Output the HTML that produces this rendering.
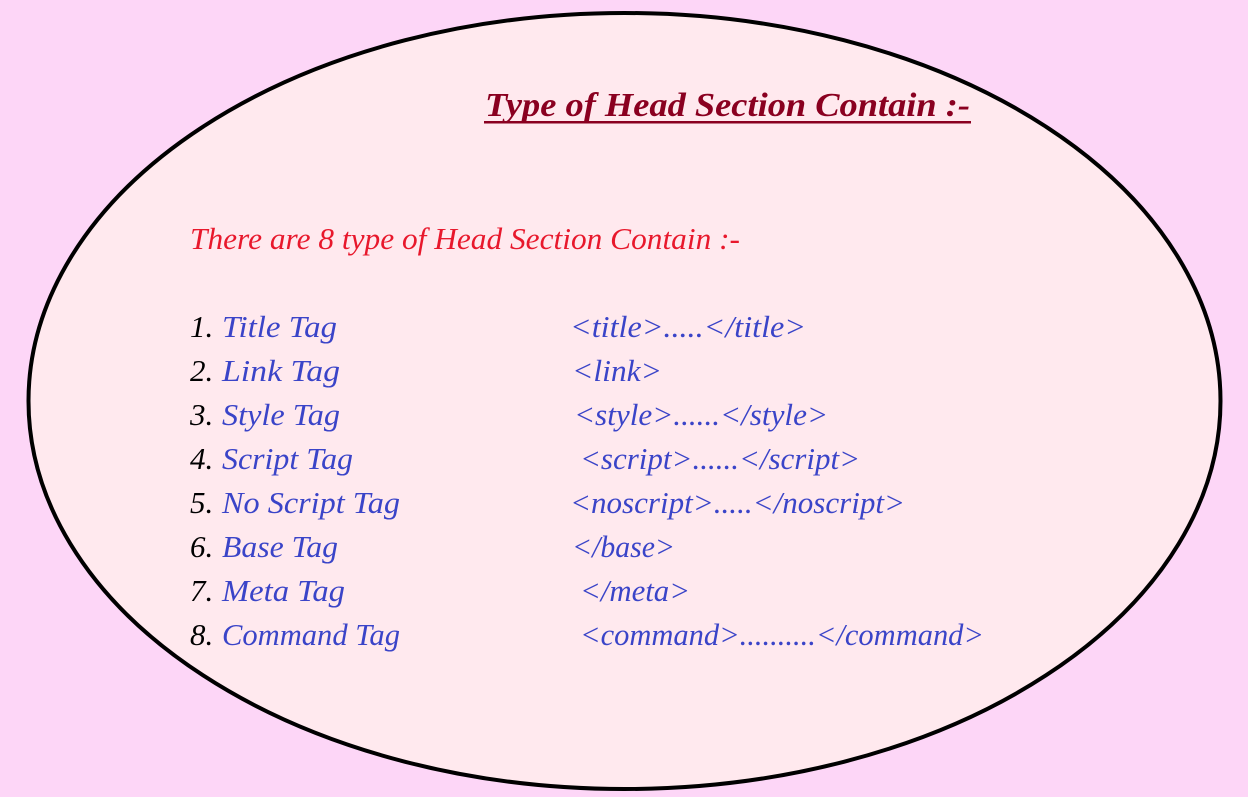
<!DOCTYPE html>
<html><head><meta charset="utf-8"><style>
html,body{margin:0;padding:0;background:#fdd6f7;}
svg{display:block}
text{font-family:"Liberation Serif",serif;font-style:italic;}
</style></head><body>
<svg width="1248" height="797" viewBox="0 0 1248 797">
<rect width="1248" height="797" fill="#fdd6f7"/>
<ellipse cx="624.5" cy="401" rx="596" ry="388" fill="#ffe9ee" stroke="#000" stroke-width="4"/>
<text x="485" y="116" font-size="34" font-weight="bold" fill="#8a0020" textLength="485" lengthAdjust="spacingAndGlyphs">Type of Head Section Contain :-</text>
<rect x="484" y="121" width="487" height="2.5" fill="#8a0020"/>
<text x="190" y="249" font-size="31" fill="#e8182c" textLength="550" lengthAdjust="spacingAndGlyphs">There are 8 type of Head Section Contain :-</text>
<g font-size="31" fill="#3a44c8" lengthAdjust="spacingAndGlyphs">
<g fill="#000">
<text x="190" y="337">1.</text><text x="190" y="381">2.</text><text x="190" y="425">3.</text><text x="190" y="469">4.</text>
<text x="190" y="513">5.</text><text x="190" y="557">6.</text><text x="190" y="601">7.</text><text x="190" y="645">8.</text>
</g>
<text x="222" y="337" textLength="115" lengthAdjust="spacingAndGlyphs">Title Tag</text>
<text x="222" y="381" textLength="118" lengthAdjust="spacingAndGlyphs">Link Tag</text>
<text x="222" y="425" textLength="118" lengthAdjust="spacingAndGlyphs">Style Tag</text>
<text x="222" y="469" textLength="131" lengthAdjust="spacingAndGlyphs">Script Tag</text>
<text x="222" y="513" textLength="178" lengthAdjust="spacingAndGlyphs">No Script Tag</text>
<text x="222" y="557" textLength="116" lengthAdjust="spacingAndGlyphs">Base Tag</text>
<text x="222" y="601" textLength="123" lengthAdjust="spacingAndGlyphs">Meta Tag</text>
<text x="222" y="645" textLength="178" lengthAdjust="spacingAndGlyphs">Command Tag</text>
<text x="570" y="337" textLength="236" lengthAdjust="spacingAndGlyphs">&lt;title&gt;.....&lt;/title&gt;</text>
<text x="572" y="381" textLength="90" lengthAdjust="spacingAndGlyphs">&lt;link&gt;</text>
<text x="574" y="425" textLength="254" lengthAdjust="spacingAndGlyphs">&lt;style&gt;......&lt;/style&gt;</text>
<text x="580" y="469" textLength="280" lengthAdjust="spacingAndGlyphs">&lt;script&gt;......&lt;/script&gt;</text>
<text x="570" y="513" textLength="335" lengthAdjust="spacingAndGlyphs">&lt;noscript&gt;.....&lt;/noscript&gt;</text>
<text x="572" y="557" textLength="103" lengthAdjust="spacingAndGlyphs">&lt;/base&gt;</text>
<text x="580" y="601" textLength="110" lengthAdjust="spacingAndGlyphs">&lt;/meta&gt;</text>
<text x="580" y="645" textLength="404" lengthAdjust="spacingAndGlyphs">&lt;command&gt;..........&lt;/command&gt;</text>
</g>
</svg>
</body></html>
